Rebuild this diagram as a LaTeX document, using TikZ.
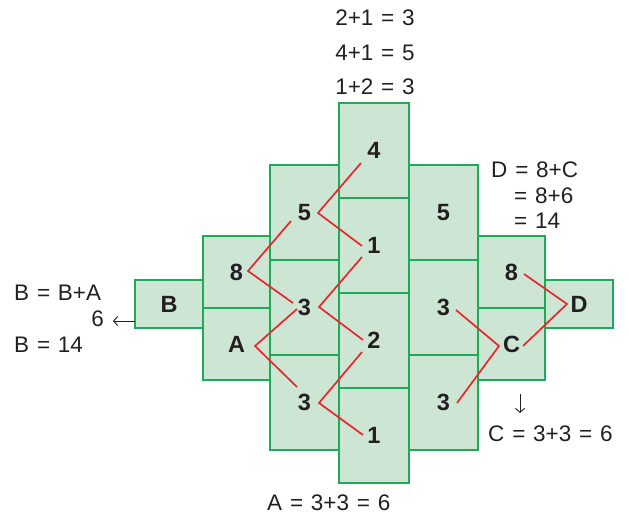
\documentclass[tikz,border=0pt]{standalone}
\usepackage{fontspec}
\setmainfont[WordSpace=1.25]{Liberation Sans}
\usetikzlibrary{arrows.meta}
\definecolor{cellfill}{HTML}{CDE6D4}
\definecolor{cellline}{HTML}{1EAA58}
\definecolor{sumred}{HTML}{E8262C}
\definecolor{ink}{HTML}{231F20}
\begin{document}
\begin{tikzpicture}[x=1pt,y=-1pt,
  cell/.style={draw=cellline, fill=cellfill, line width=1.7pt, inner sep=0pt,
    font=\fontsize{23.5}{28}\selectfont\bfseries, text=ink},
  colB/.style={cell, minimum width=68pt, minimum height=48pt},
  colS/.style={cell, minimum width=67pt, minimum height=72pt},
  colT/.style={cell, minimum width=69pt, minimum height=95pt},
  colM/.style={cell, minimum width=70pt, minimum height=95pt},
  sumline/.style={draw=sumred, line width=1.7pt},
  eq/.style={font=\fontsize{22.5}{27}\selectfont, inner sep=0pt, text=ink},
  note/.style={draw=ink, line width=0.9pt, -{Straight Barb[length=4pt,width=9pt]}}]
\useasboundingbox (0,0) rectangle (629,519);
% column 1
\node[colB] (B) at (169,304) {B};
% column 2
\node[colS] (c2a) at (236.5,272) {8};
\node[colS] (A) at (236.5,344) {A};
% column 3
\node[colT] (c3a) at (304.5,212.5) {5};
\node[colT] (c3b) at (304.5,307.5) {3};
\node[colT] (c3c) at (304.5,402.5) {3};
% column 4
\node[colM] (c4a) at (374,150.5) {4};
\node[colM] (c4b) at (374,245.5) {1};
\node[colM] (c4c) at (374,340.5) {2};
\node[colM] (c4d) at (374,435.5) {1};
% column 5
\node[colT] (c5a) at (443.5,212.5) {5};
\node[colT] (c5b) at (443.5,307.5) {3};
\node[colT] (c5c) at (443.5,402.5) {3};
% column 6
\node[colS] (c6a) at (511.5,272) {8};
\node[colS] (C) at (511.5,344) {C};
% column 7
\node[colB] (D) at (579,304) {D};
% red summing lines
\coordinate (v1) at (318,213); \coordinate (e1a) at (361,163); \coordinate (e1b) at (362,246);
\coordinate (v2) at (248,271); \coordinate (e2a) at (291,221); \coordinate (e2b) at (293,303);
\coordinate (v3) at (319,307); \coordinate (e3a) at (362,257); \coordinate (e3b) at (363,340);
\coordinate (v4) at (255,346); \coordinate (e4a) at (297,309); \coordinate (e4b) at (297,387);
\coordinate (v5) at (319,403); \coordinate (e5a) at (362,352); \coordinate (e5b) at (363,435);
\coordinate (v6) at (499,346); \coordinate (e6a) at (456,310); \coordinate (e6b) at (457,403);
\coordinate (v7) at (567,304); \coordinate (e7a) at (524,274); \coordinate (e7b) at (523,346);
\foreach \i in {1,...,7} {\draw[sumline] (e\i a) -- (v\i) -- (e\i b);}
% texts
\node[eq, anchor=base] (t1) at (375,26) {2+1 = 3};
\node[eq, anchor=base] (t2) at (375,60) {4+1 = 5};
\node[eq, anchor=base] (t3) at (375,95) {1+2 = 3};
\node[eq, anchor=base west] (bb) at (14,300) {B = B+A};
\node[eq, anchor=base east] (six) at (104,326) {6};
\node[eq, anchor=base west] (b14) at (14,352) {B = 14};
\node[eq, anchor=base west] (d1) at (491,177) {D = 8+C};
\node[eq, anchor=base west] (d2) at (514,203) {= 8+6};
\node[eq, anchor=base west] (d3) at (514,228) {= 14};
\node[eq, anchor=base west] (ceq) at (488,441) {C = 3+3 = 6};
\node[eq, anchor=base west] (aeq) at (267,510) {A = 3+3 = 6};
% small arrows
\coordinate (la) at (135,321); \coordinate (lb) at (113,321);
\draw[note] (la) -- (lb);
\coordinate (da) at (520,394); \coordinate (db) at (520,413);
\draw[note] (da) -- (db);
\end{tikzpicture}
\end{document}
